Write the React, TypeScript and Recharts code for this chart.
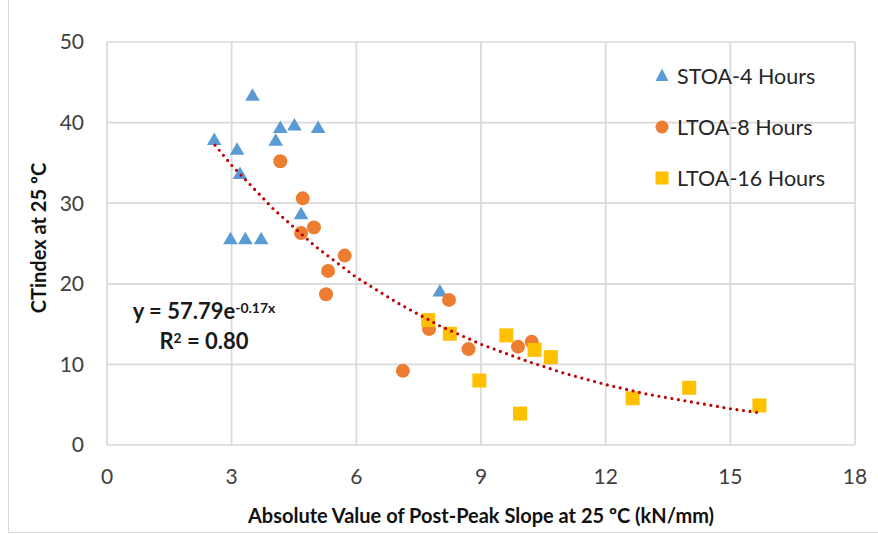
import React from 'react';
import { ScatterChart, Scatter, XAxis, YAxis, CartesianGrid } from 'recharts';

// STOA-4 Hours (triangles)
const stoaX = [2.58, 2.97, 3.13, 3.2, 3.33, 3.5, 3.71, 4.06, 4.17, 4.51, 4.67, 5.08, 8.01];
const stoaY = [37.9, 25.6, 36.7, 33.7, 25.6, 43.4, 25.6, 37.8, 39.4, 39.7, 28.7, 39.4, 19.1];
// LTOA-8 Hours (circles)
const ltoa8X = [4.17, 4.71, 4.98, 4.67, 5.72, 5.32, 5.27, 8.23, 7.75, 8.7, 7.12, 9.89, 10.22];
const ltoa8Y = [35.2, 30.6, 27.0, 26.3, 23.5, 21.6, 18.7, 18.0, 14.4, 11.9, 9.2, 12.2, 12.8];
// LTOA-16 Hours (squares)
const ltoa16X = [7.73, 8.25, 8.96, 9.61, 10.29, 10.68, 9.94, 12.65, 14.01, 15.7];
const ltoa16Y = [15.5, 13.8, 8.0, 13.6, 11.8, 10.9, 3.9, 5.8, 7.1, 4.9];
// Exponential trendline, values
const trendX = [2.6, 3, 4, 5, 6, 7, 8, 9, 10, 11, 12, 13, 14, 15, 15.7];
const trendY = [37.2, 34.7, 29.3, 24.7, 20.8, 17.6, 14.8, 12.5, 10.6, 8.9, 7.5, 6.3, 5.4, 4.5, 4.0];

const xTicks = [0, 3, 6, 9, 12, 15, 18];
const yTicks = [0, 10, 20, 30, 40, 50];

const seriesNames = ['STOA-4 Hours', 'LTOA-8 Hours', 'LTOA-16 Hours'];
const seriesColors = ['#5b9bd5', '#ed7d31', '#ffc000'];
const xTitle = 'Absolute Value of Post-Peak Slope at 25 ºC (kN/mm)';
const yTitle = 'CTindex at 25 ºC';

const zip = (xs: number[], ys: number[]) => xs.map((x, i) => ({ x, y: ys[i] }));
const stoa = zip(stoaX, stoaY);
const ltoa8 = zip(ltoa8X, ltoa8Y);
const ltoa16 = zip(ltoa16X, ltoa16Y);
const trend = zip(trendX, trendY);

const FONT = "Lato, 'Liberation Sans', sans-serif";

const Triangle = (p: any) => (
  <polygon
    points={`${p.cx},${p.cy - 7} ${p.cx - 7.3},${p.cy + 5.5} ${p.cx + 7.3},${p.cy + 5.5}`}
    fill={seriesColors[0]}
  />
);
const Circle = (p: any) => <circle cx={p.cx} cy={p.cy} r={7} fill={seriesColors[1]} />;
const Square = (p: any) => (
  <rect x={p.cx - 7} y={p.cy - 7} width={14} height={14} fill={seriesColors[2]} />
);
const NoDot = () => <g />;

export default function App() {
  return (
    <div style={{ position: 'absolute', left: 0, top: 0, width: 878, height: 534, background: '#fff', fontFamily: FONT }}>
      <div style={{ position: 'absolute', left: 8, top: 0, width: 869, height: 532, borderLeft: '1px solid #d9d9d9', borderBottom: '1px solid #d9d9d9' }} />
      <ScatterChart width={878} height={534} margin={{ top: 42, right: 23, left: 47, bottom: 0 }}>
        <CartesianGrid stroke="#d9d9d9" strokeWidth={1.7} horizontalValues={yTicks} verticalValues={xTicks} />
        <XAxis
          type="number"
          dataKey="x"
          domain={[0, 18]}
          ticks={xTicks}
          height={89}
          axisLine={false}
          tickLine={false}
          tickSize={0}
          tickMargin={24}
          tick={{ fill: '#404040', fontSize: 21, fontFamily: FONT }}
          interval={0}
        />
        <YAxis
          type="number"
          dataKey="y"
          domain={[0, 50]}
          ticks={yTicks}
          width={60}
          axisLine={false}
          tickLine={false}
          tickSize={0}
          tickMargin={23}
          tick={{ fill: '#404040', fontSize: 21, fontFamily: FONT }}
          interval={0}
        />
        <Scatter data={stoa} shape={Triangle} isAnimationActive={false} />
        <Scatter data={ltoa8} shape={Circle} isAnimationActive={false} />
        <Scatter data={ltoa16} shape={Square} isAnimationActive={false} />
        <Scatter
          data={trend}
          shape={NoDot}
          line={{ stroke: '#c00000', strokeWidth: 3.2, strokeDasharray: '0 6.6', strokeLinecap: 'round' }}
          lineType="joint"
          isAnimationActive={false}
        />
      </ScatterChart>

      {/* Legend */}
      <svg style={{ position: 'absolute', left: 650, top: 60 }} width={30} height={140}>
        <polygon points="12,8.5 5.5,21 18.5,21" fill={seriesColors[0]} />
        <circle cx={12} cy={67} r={6.5} fill={seriesColors[1]} />
        <rect x={5.5} y={111.5} width={13} height={13} fill={seriesColors[2]} />
      </svg>
      {seriesNames.map((n, i) => (
        <div
          key={n}
          style={{ position: 'absolute', left: 677, top: [76, 127, 178][i] - 13, height: 26, lineHeight: '26px', fontSize: 21.5, color: '#262626', whiteSpace: 'nowrap' }}
        >
          {n}
        </div>
      ))}

      {/* Trendline equation */}
      <div style={{ position: 'absolute', left: 104, top: 296, width: 200, textAlign: 'center', fontWeight: 700, fontSize: 22, lineHeight: '30px', color: '#1a1a1a' }}>
        <div>
          y = 57.79e<sup style={{ fontSize: 14, verticalAlign: 'top', position: 'relative', top: -3 }}>-0.17x</sup>
        </div>
        <div>
          R<sup style={{ fontSize: 14, verticalAlign: 'top', position: 'relative', top: -3 }}>2</sup> = 0.80
        </div>
      </div>

      {/* Axis titles */}
      <div style={{ position: 'absolute', left: 181, top: 503, width: 600, textAlign: 'center', fontWeight: 700, fontSize: 20, lineHeight: '24px', color: '#111' }}>
        {xTitle}
      </div>
      <div
        style={{ position: 'absolute', left: 38 - 150, top: 238 - 12, width: 300, height: 24, textAlign: 'center', fontWeight: 700, fontSize: 20, lineHeight: '24px', color: '#111', transform: 'rotate(-90deg)', transformOrigin: '150px 12px' }}
      >
        {yTitle}
      </div>
    </div>
  );
}
